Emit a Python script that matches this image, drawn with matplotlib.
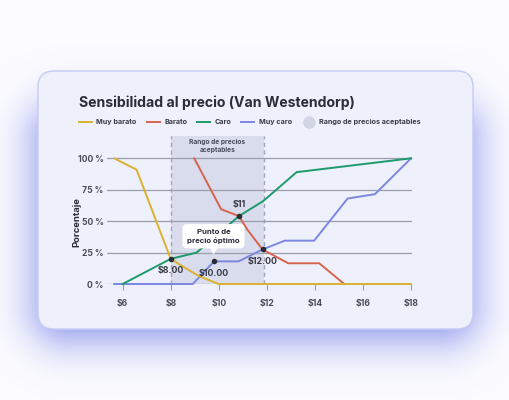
import numpy as np
import matplotlib
matplotlib.use("Agg")
import matplotlib.pyplot as plt
from matplotlib.patches import FancyBboxPatch
from matplotlib.lines import Line2D

plt.rcParams['font.family'] = ['Inter', 'DejaVu Sans']
plt.rcParams['font.weight'] = 'bold'

# ---- data (price in $, percentage of respondents) ----
muy_barato_x = [5.65, 6.58, 8.0, 8.5, 9.2, 10.0, 18.0]
muy_barato_y = [100, 91, 20, 14, 6, 0, 0]

barato_x = [8.98, 10.1, 10.84, 11.2, 11.82, 12.89, 14.18, 15.22]
barato_y = [100, 59.5, 54, 43, 27.5, 16.5, 16.5, 0]

caro_x = [6.0, 8.0, 9.08, 10.84, 11.85, 13.24, 18.0]
caro_y = [0, 20, 25, 54, 66, 89, 100]

muy_caro_x = [5.65, 8.92, 9.8, 10.82, 11.82, 12.75, 13.97, 15.36, 16.5, 18.0]
muy_caro_y = [0, 0, 18, 18, 27.5, 34.5, 34.5, 68, 71.5, 100]

rango = (8.0, 11.9)

puntos_x = [8.0, 9.8, 10.84, 11.82]
puntos_y = [20, 18, 54, 27.5]
puntos_lbl = ['$8.00', '$10.00', '$11', '$12.00']
puntos_off = [(0, -8.5), (0, -8.5), (0, 8.5), (0, -8.5)]

xticks = [6, 8, 10, 12, 14, 16, 18]
xtick_lbl = ['$6', '$8', '$10', '$12', '$14', '$16', '$18']
yticks = [0, 25, 50, 75, 100]
ytick_lbl = ['0 %', '25 %', '50 %', '75 %', '100 %']

optimo_pos = (9.78, 38)

c_yellow = '#dbb22f'
c_red = '#d7644e'
c_green = '#1e9a6b'
c_blue = '#7c87e1'
c_text = '#2a2c38'
c_tick = '#4a4c5a'

W, H = 510, 400
fig = plt.figure(figsize=(W / 100, H / 100), dpi=100)

# ---- background with soft blue glow and card ----
bg = fig.add_axes([0, 0, 1, 1])
bg.set_xlim(0, W)
bg.set_ylim(H, 0)
bg.axis('off')
yy, xx = np.mgrid[0:H, 0:W] + 0.5
dx = np.maximum(np.maximum(70 - xx, xx - 440), 0)
dy = np.maximum(np.maximum(140 - yy, yy - 305), 0)
d = np.hypot(dx, dy)
alpha = 0.8 * np.exp(-(d / 42.0) ** 2)
glow = np.zeros((H, W, 4))
glow[..., 0] = 0x70 / 255
glow[..., 1] = 0x7b / 255
glow[..., 2] = 0xe8 / 255
glow[..., 3] = alpha
bg.imshow(np.ones((H, W, 3)) * np.array([0.99, 0.99, 1.0]), extent=(0, W, H, 0), zorder=0)
bg.imshow(glow, extent=(0, W, H, 0), zorder=1)
card = FancyBboxPatch((38, 71), 435, 258, boxstyle='round,pad=0,rounding_size=16',
                      fc='#eef0fc', ec='#c6ccf4', lw=1.0, zorder=2)
bg.add_patch(card)

fig.text(79 / W, 1 - 103 / H, 'Sensibilidad al precio (Van Westendorp)',
         fontsize=10.1, fontweight='bold', color=c_text, va='center', ha='left')

# ---- chart ----
ax = fig.add_axes([107 / W, 1 - 284 / H, 305 / W, 148.3 / H])
ax.set_facecolor('none')
ax.set_xlim(5.35, 18.04)
ax.set_ylim(0, 118)
for s in ax.spines.values():
    s.set_visible(False)

ax.axvspan(rango[0], rango[1], color='#d9dcec', zorder=1, lw=0)
for xv in rango:
    ax.axvline(xv, color='#a3a6b8', lw=1.0, ls=(0, (3, 2.5)), zorder=1.5)
ax.text(sum(rango) / 2, 110, 'Rango de precios\naceptables', ha='center', va='center',
        fontsize=4.8, color='#4a4d5e', fontweight='bold', linespacing=1.3, zorder=3)

for yv in yticks:
    ax.axhline(yv, color='#9b9dac', lw=0.9, zorder=2)

lw = 1.4
ax.plot(muy_caro_x, muy_caro_y, color=c_blue, lw=lw, zorder=4, clip_on=False, label='Muy caro')
ax.plot(caro_x, caro_y, color=c_green, lw=lw, zorder=4, clip_on=False, label='Caro')
ax.plot(barato_x, barato_y, color=c_red, lw=lw, zorder=4, clip_on=False, label='Barato')
ax.plot(muy_barato_x, muy_barato_y, color=c_yellow, lw=lw, zorder=5, clip_on=False, label='Muy barato')

# optimal price callout
ax.text(optimo_pos[0], optimo_pos[1], 'Punto de\nprecio óptimo', ha='center', va='center',
        fontsize=5.6, color=c_text, fontweight='bold', linespacing=1.35, zorder=7,
        bbox=dict(boxstyle='round,pad=0.6,rounding_size=0.6', fc='white', ec='none'))
ax.plot([optimo_pos[0]], [optimo_pos[1] - 11], marker='v', ms=5, color='white', zorder=7)

ax.scatter(puntos_x, puntos_y, s=16, color='#2b2c33', zorder=8, lw=0)
for x, y, t, off in zip(puntos_x, puntos_y, puntos_lbl, puntos_off):
    ax.annotate(t, (x, y), xytext=off, textcoords='offset points', ha='center', va='center',
                fontsize=6.4, color='#3a3c48', fontweight='bold', zorder=9)

ax.set_xticks(xticks)
ax.set_xticklabels(xtick_lbl)
ax.set_yticks(yticks)
ax.set_yticklabels(ytick_lbl)
ax.tick_params(axis='x', length=4.5, width=0.8, color='#9b9dac', pad=6,
               labelsize=6.2, labelcolor=c_tick)
ax.tick_params(axis='y', length=0, pad=2.5, labelsize=6.2, labelcolor=c_tick)
for lab in ax.get_xticklabels() + ax.get_yticklabels():
    lab.set_fontweight('bold')
ax.set_ylabel('Porcentaje', fontsize=6.8, color=c_text, fontweight='bold')
ax.yaxis.set_label_coords(-0.085, 0.42)

handles = [
    Line2D([], [], color=c_yellow, lw=1.4),
    Line2D([], [], color=c_red, lw=1.4),
    Line2D([], [], color=c_green, lw=1.4),
    Line2D([], [], color=c_blue, lw=1.4),
    Line2D([], [], color='#d2d5e4', lw=0, marker='o', ms=8),
]
labels = ['Muy barato', 'Barato', 'Caro', 'Muy caro', 'Rango de precios aceptables']
leg = fig.legend(handles, labels, loc='center left', bbox_to_anchor=(79 / W, 1 - 122 / H),
                 ncol=5, frameon=False, fontsize=5.2, handlelength=1.8, handletextpad=0.6,
                 columnspacing=1.4, borderpad=0, borderaxespad=0)
for t in leg.get_texts():
    t.set_color('#3a3c48')
    t.set_fontweight('bold')

fig.savefig('out.png', dpi=100)
